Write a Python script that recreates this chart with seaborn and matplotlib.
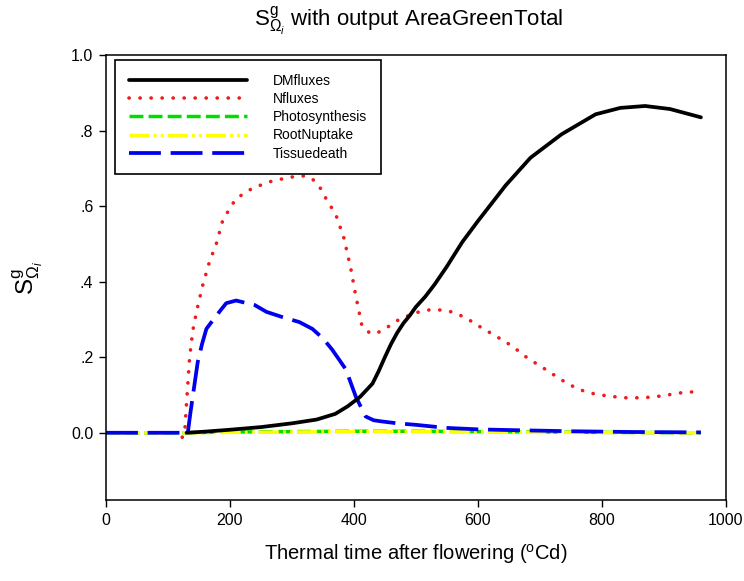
import matplotlib
matplotlib.use("Agg")
import matplotlib.pyplot as plt
import seaborn as sns
import pandas as pd

sns.set_style("ticks")
plt.rcParams['font.family'] = ['Liberation Sans', 'DejaVu Sans']
plt.rcParams['mathtext.fontset'] = 'custom'
plt.rcParams['mathtext.rm'] = 'Liberation Sans'
plt.rcParams['mathtext.it'] = 'Liberation Sans:italic'
plt.rcParams['mathtext.bf'] = 'Liberation Sans:bold'
plt.rcParams['text.color'] = 'black'
plt.rcParams['axes.labelcolor'] = 'black'
plt.rcParams['xtick.color'] = 'black'
plt.rcParams['ytick.color'] = 'black'

# ---- data ----
dm_x = [130, 160, 200, 250, 300, 340, 370, 390, 410, 430, 440, 450, 460, 470, 480, 490,
        500, 515, 530, 550, 575, 600, 645, 685, 735, 790, 830, 870, 910, 960]
dm_y = [0.0, 0.003, 0.008, 0.015, 0.025, 0.035, 0.05, 0.07, 0.095, 0.13, 0.163, 0.2,
        0.235, 0.265, 0.29, 0.31, 0.333, 0.36, 0.392, 0.44, 0.505, 0.56, 0.655, 0.728,
        0.79, 0.843, 0.86, 0.865, 0.857, 0.835]

n_x = [123, 127, 130, 135, 140, 146, 156, 167, 178, 188, 200, 210, 237, 269, 300, 320,
       333, 345, 355, 371, 384, 395, 403, 413, 425, 435, 450, 473, 500, 521, 540, 558,
       580, 601, 630, 655, 680, 709, 735, 762, 790, 816, 843, 870, 900, 923, 960]
n_y = [-0.012, 0.0, 0.08, 0.2, 0.27, 0.32, 0.39, 0.453, 0.5, 0.56, 0.595, 0.62, 0.648,
       0.667, 0.677, 0.68, 0.672, 0.65, 0.62, 0.577, 0.515, 0.435, 0.363, 0.283, 0.265,
       0.262, 0.275, 0.30, 0.318, 0.325, 0.325, 0.32, 0.305, 0.283, 0.255, 0.23, 0.198,
       0.168, 0.14, 0.115, 0.102, 0.096, 0.092, 0.093, 0.098, 0.105, 0.11]

ph_x = [0, 130, 200, 300, 400, 500, 600, 700, 800, 960]
ph_y = [0.0, 0.0, 0.002, 0.003, 0.004, 0.004, 0.003, 0.002, 0.001, 0.0]

rn_x = [0, 130, 200, 300, 400, 500, 600, 700, 800, 960]
rn_y = [0.0, 0.0, 0.001, 0.002, 0.003, 0.003, 0.002, 0.001, 0.001, 0.0]

td_x = [0, 120, 128, 132, 136, 140, 148, 155, 162, 178, 194, 210, 240, 259, 285, 312,
        333, 350, 365, 387, 403, 419, 432, 445, 470, 500, 548, 600, 655, 750, 850, 960]
td_y = [0.0, 0.0, -0.006, 0.0, 0.05, 0.096, 0.187, 0.235, 0.275, 0.31, 0.343, 0.35,
        0.338, 0.32, 0.306, 0.293, 0.275, 0.25, 0.22, 0.168, 0.096, 0.043, 0.033, 0.03,
        0.025, 0.021, 0.013, 0.009, 0.007, 0.004, 0.002, 0.001]

series_names = ["DMfluxes", "Nfluxes", "Photosynthesis", "RootNuptake", "Tissuedeath"]
x_ticks = [0, 200, 400, 600, 800, 1000]
x_ticklabels = ["0", "200", "400", "600", "800", "1000"]
y_ticks = [0.0, 0.2, 0.4, 0.6, 0.8, 1.0]
y_ticklabels = ["0.0", ".2", ".4", ".6", ".8", "1.0"]

data = {
    "DMfluxes": (dm_x, dm_y),
    "Nfluxes": (n_x, n_y),
    "Photosynthesis": (ph_x, ph_y),
    "RootNuptake": (rn_x, rn_y),
    "Tissuedeath": (td_x, td_y),
}
df = pd.concat([pd.DataFrame({"x": v[0], "y": v[1], "series": k}) for k, v in data.items()],
               ignore_index=True)

styles = {
    "DMfluxes": dict(color="black", lw=2.7, linestyle="-"),
    "Nfluxes": dict(color="#ee1c1c", lw=2.6, linestyle=(0, (0.05, 3.0)), dash_capstyle="round"),
    "Photosynthesis": dict(color="#00dd00", lw=2.5, linestyle=(0, (4.0, 1.5))),
    "RootNuptake": dict(color="#ffff00", lw=2.5, linestyle=(0, (5.8, 1.2, 0.8, 1.2, 0.8, 1.2))),
    "Tissuedeath": dict(color="#0000ee", lw=2.7, linestyle=(0, (8.5, 2.6))),
}

fig = plt.figure(figsize=(7.44, 5.81), dpi=100)
ax = fig.add_axes([0.14247, 0.13941, 0.83293, 0.76593])

draw_order = ["Photosynthesis", "RootNuptake", "Tissuedeath", "Nfluxes", "DMfluxes"]
handles = {}
for name in draw_order:
    sub = df[df["series"] == name]
    sns.lineplot(data=sub, x="x", y="y", ax=ax, sort=False, estimator=None,
                 label=name, **styles[name])
    handles[name] = ax.get_lines()[-1]

ax.set_xlim(0, 1000)
ax.set_ylim(-0.178, 1.0)
ax.set_xticks(x_ticks)
ax.set_xticklabels(x_ticklabels)
ax.set_yticks(y_ticks)
ax.set_yticklabels(y_ticklabels)
ax.tick_params(axis="both", direction="out", length=5, width=1, labelsize=11.5,
               colors="black", labelcolor="black", pad=4)
for s in ax.spines.values():
    s.set_visible(True)
    s.set_color("black")
    s.set_linewidth(1.1)

ax.set_xlabel(r"Thermal time after flowering ($\mathregular{^o}$Cd)", fontsize=14.5,
              color="black")
ax.xaxis.set_label_coords(0.5, -0.095)
ax.set_ylabel(r"$\mathregular{S_{\Omega_{\mathit{i}}}^{g}}$", fontsize=17.5, color="black")
ax.yaxis.set_label_coords(-0.098, 0.5)

fig.text(409 / 744, 1 - 21 / 581,
         r"$\mathregular{S_{\Omega_{\mathit{i}}}^{g}}$ with output AreaGreenTotal",
         fontsize=16, ha="center", va="center", color="black")

leg = ax.legend([handles[n] for n in series_names], series_names,
                loc="upper left", bbox_to_anchor=(0.0145, 0.9888), borderaxespad=0,
                fontsize=10, frameon=True, fancybox=False, edgecolor="black",
                handlelength=8.5, handletextpad=1.85, labelspacing=0.3, borderpad=1.0)
leg.get_frame().set_linewidth(1.2)
leg.get_frame().set_facecolor("white")
leg.get_frame().set_alpha(1)
for t in leg.get_texts():
    t.set_color("black")

fig.savefig("out.png", dpi=100)
